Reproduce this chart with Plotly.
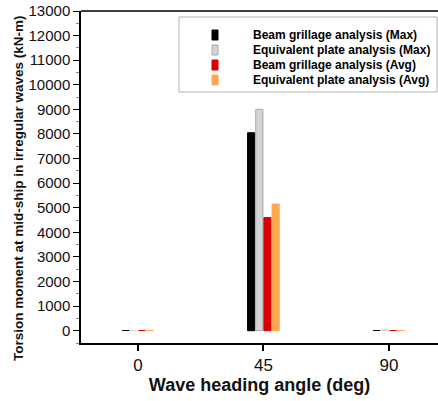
import plotly.graph_objects as go

headings = [0, 45, 90]
beam_max = [20, 8050, 20]
plate_max = [20, 9000, 60]
beam_avg = [20, 4600, 20]
plate_avg = [15, 5150, 20]

y_ticks = list(range(0, 13001, 1000))

series = [
    ("Beam grillage analysis (Max)", beam_max, "#000000", "#000000"),
    ("Equivalent plate analysis (Max)", plate_max, "#d4d4d4", "#a8a8a8"),
    ("Beam grillage analysis (Avg)", beam_avg, "#d60000", "#d60000"),
    ("Equivalent plate analysis (Avg)", plate_avg, "#ffa852", "#ffa852"),
]

W, H = 438, 401
ML, MR, MT, MB = 81, 0, 11, 58
PW, PH = W - ML - MR, H - MT - MB


def px(x):
    return (x - ML) / PW


def py(y):
    return (H - MB - y) / PH


fig = go.Figure()
for name, vals, fill, edge in series:
    fig.add_trace(go.Bar(
        x=headings, y=vals, name=name, showlegend=False,
        marker=dict(color=fill, line=dict(color=edge, width=[0, 1, 0])),
    ))

# legend box drawn as shapes + text annotations
shapes = [
    dict(type="line", xref="paper", yref="paper", x0=0, x1=1, y0=1, y1=1,
         line=dict(color="#000", width=1.5)),
    dict(type="rect", xref="paper", yref="paper", x0=px(179), x1=px(437),
         y0=py(92), y1=py(17), line=dict(color="#b0b0b0", width=1), fillcolor="white"),
]
annotations = []
row_y = [35, 50, 65, 80]
for (name, vals, fill, edge), ry in zip(series, row_y):
    shapes.append(dict(type="rect", xref="paper", yref="paper",
                       x0=px(212), x1=px(218), y0=py(ry + 5), y1=py(ry - 5),
                       fillcolor=fill, line=dict(color=edge, width=1)))
    annotations.append(dict(xref="paper", yref="paper", x=px(251), y=py(ry),
                            xanchor="left", yanchor="middle", showarrow=False,
                            text="<b>" + name + "</b>",
                            font=dict(size=12, color="#000")))

# vertical axis title
annotations.append(dict(xref="paper", yref="paper", x=px(18), y=py(188),
                        xanchor="center", yanchor="middle", showarrow=False,
                        textangle=-90,
                        text="<b>Torsion moment at mid-ship in irregular waves (kN-m)</b>",
                        font=dict(size=13.5, color="#111")))

fig.update_layout(
    width=W, height=H,
    margin=dict(l=ML, r=MR, t=MT, b=MB),
    paper_bgcolor="white", plot_bgcolor="white",
    barmode="group", bargap=0.74, bargroupgap=0.12,
    font=dict(family="Liberation Sans, Arial, sans-serif", color="#111"),
    showlegend=False,
    xaxis=dict(
        range=[-20.4, 107.6], tickvals=headings, ticktext=[str(h) for h in headings],
        showline=True, linecolor="#000", linewidth=1.5,
        ticks="outside", ticklen=6, tickcolor="#000", tickwidth=1.5,
        tickfont=dict(size=17), showgrid=False, zeroline=False,
        title=dict(text="<b>Wave heading angle (deg)</b>", font=dict(size=18), standoff=2),
    ),
    yaxis=dict(
        range=[-500, 13000], tickvals=y_ticks, ticktext=[str(v) for v in y_ticks],
        showline=True, linecolor="#000", linewidth=1.5,
        ticks="outside", ticklen=6, tickcolor="#000", tickwidth=1.2,
        minor=dict(dtick=500, tick0=0, ticks="outside", ticklen=3, tickcolor="#888"),
        tickfont=dict(size=15), showgrid=False, zeroline=False,
    ),
    shapes=shapes,
    annotations=annotations,
)

fig.write_html("out.html")
